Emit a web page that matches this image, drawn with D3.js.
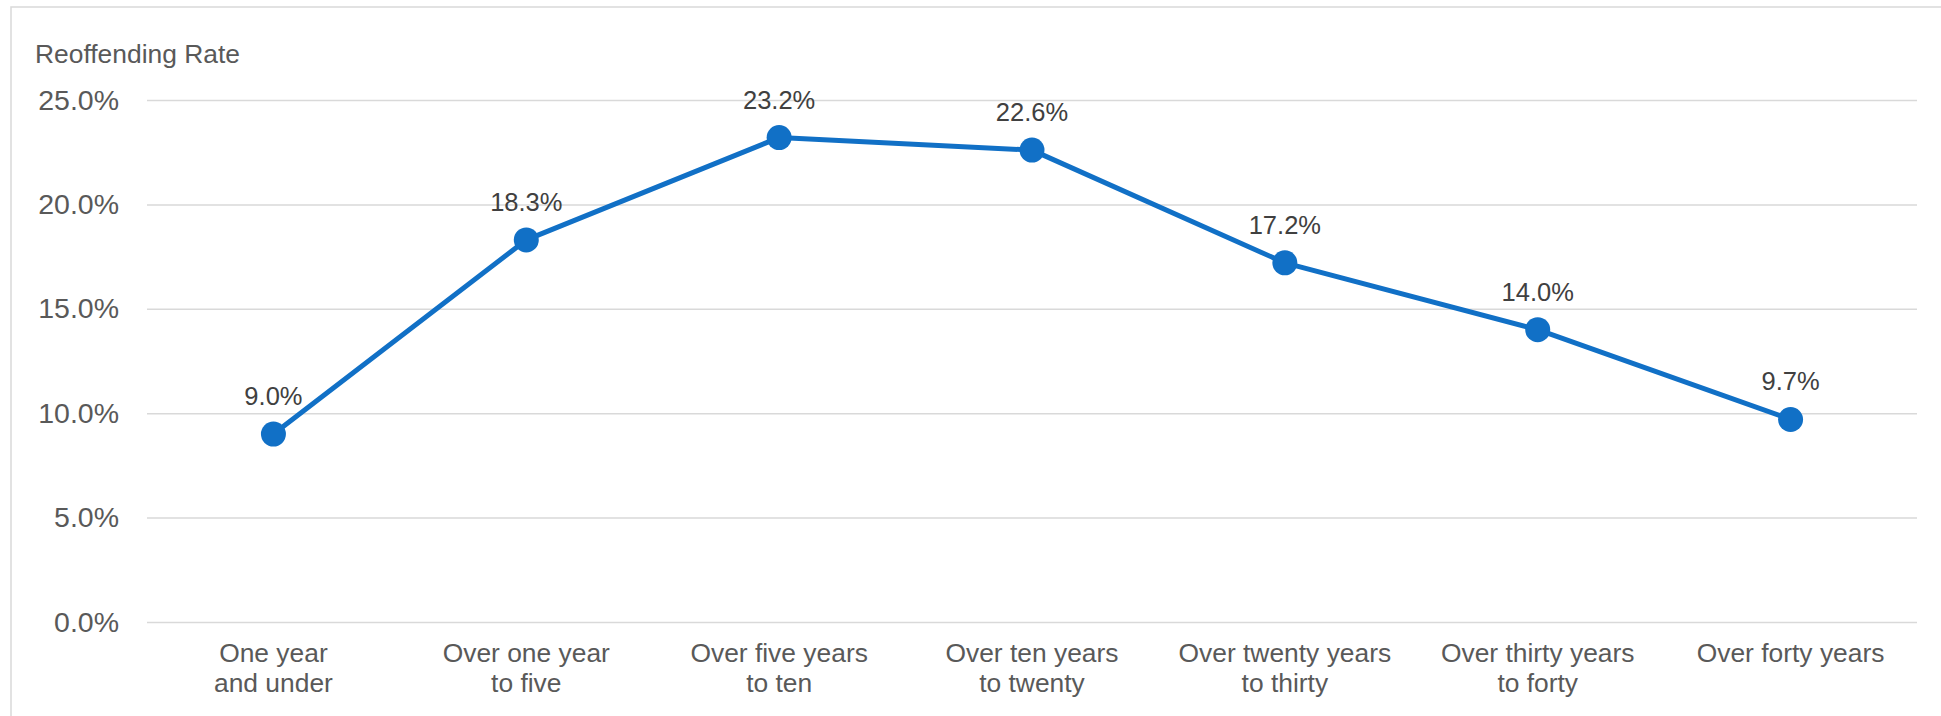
<!DOCTYPE html>
<html>
<head>
<meta charset="utf-8">
<script src="https://cdn.jsdelivr.net/npm/d3@7"></script>
<style>
  html, body { margin: 0; padding: 0; background: #fff; }
  svg { display: block; font-family: Arial, "Liberation Sans", sans-serif; }
</style>
</head>
<body>
<svg id="chart" width="1941" height="716"></svg>
<script>
const categories = [
  ["One year", "and under"],
  ["Over one year", "to five"],
  ["Over five years", "to ten"],
  ["Over ten years", "to twenty"],
  ["Over twenty years", "to thirty"],
  ["Over thirty years", "to forty"],
  ["Over forty years"]
];
const rates = [9.0, 18.3, 23.2, 22.6, 17.2, 14.0, 9.7];
const yTicks = [0, 5, 10, 15, 20, 25];
const yTitle = "Reoffending Rate";

(function () {
const W = 1941, H = 716;
const mLeft = 147, mRight = 1917, mTop = 100, mBottom = 622;
const svg = d3.select("#chart");

// outer frame
svg.append("rect").attr("x", 11).attr("y", 7).attr("width", W).attr("height", H)
  .attr("fill", "none").attr("stroke", "#d9d9d9").attr("stroke-width", 1.5);

const x = d3.scaleBand().domain(d3.range(categories.length)).range([mLeft, mRight]).padding(0);
const y = d3.scaleLinear().domain([0, 25]).range([mBottom, mTop]);

// gridlines + y labels via axis
const yAxis = d3.axisLeft(y).tickValues(yTicks).tickSize(-(mRight - mLeft)).tickPadding(28)
  .tickFormat(d => d.toFixed(1) + "%");
const gy = svg.append("g").attr("transform", `translate(${mLeft},0)`).call(yAxis);
gy.select(".domain").remove();
gy.selectAll(".tick line").attr("stroke", "#d9d9d9").attr("stroke-width", 1.5);
gy.selectAll(".tick text").attr("fill", "#595959").attr("font-size", 28.5)
  .attr("font-family", "Arial, 'Liberation Sans', sans-serif");

// title
svg.append("text").attr("x", 35).attr("y", 63).attr("fill", "#595959")
  .attr("font-size", 26.4).text(yTitle);

// x labels
const cx = i => x(i) + x.bandwidth() / 2;
const xl = svg.append("g");
categories.forEach((lines, i) => {
  const t = xl.append("text").attr("text-anchor", "middle").attr("fill", "#595959")
    .attr("font-size", 26.4);
  lines.forEach((ln, j) => {
    t.append("tspan").attr("x", cx(i)).attr("y", 662 + j * 30).text(ln);
  });
});

// line
const line = d3.line().x((d, i) => cx(i)).y(d => y(d));
svg.append("path").datum(rates).attr("d", line).attr("fill", "none")
  .attr("stroke", "#1170c6").attr("stroke-width", 5).attr("stroke-linejoin", "round");

svg.append("g").selectAll("circle").data(rates).join("circle")
  .attr("cx", (d, i) => cx(i)).attr("cy", d => y(d)).attr("r", 12.5).attr("fill", "#1170c6");

svg.append("g").selectAll("text").data(rates).join("text")
  .attr("x", (d, i) => cx(i)).attr("y", d => y(d) - 29).attr("text-anchor", "middle")
  .attr("fill", "#404040").attr("font-size", 25.5).text(d => d.toFixed(1) + "%");
})();
</script>
</body>
</html>
